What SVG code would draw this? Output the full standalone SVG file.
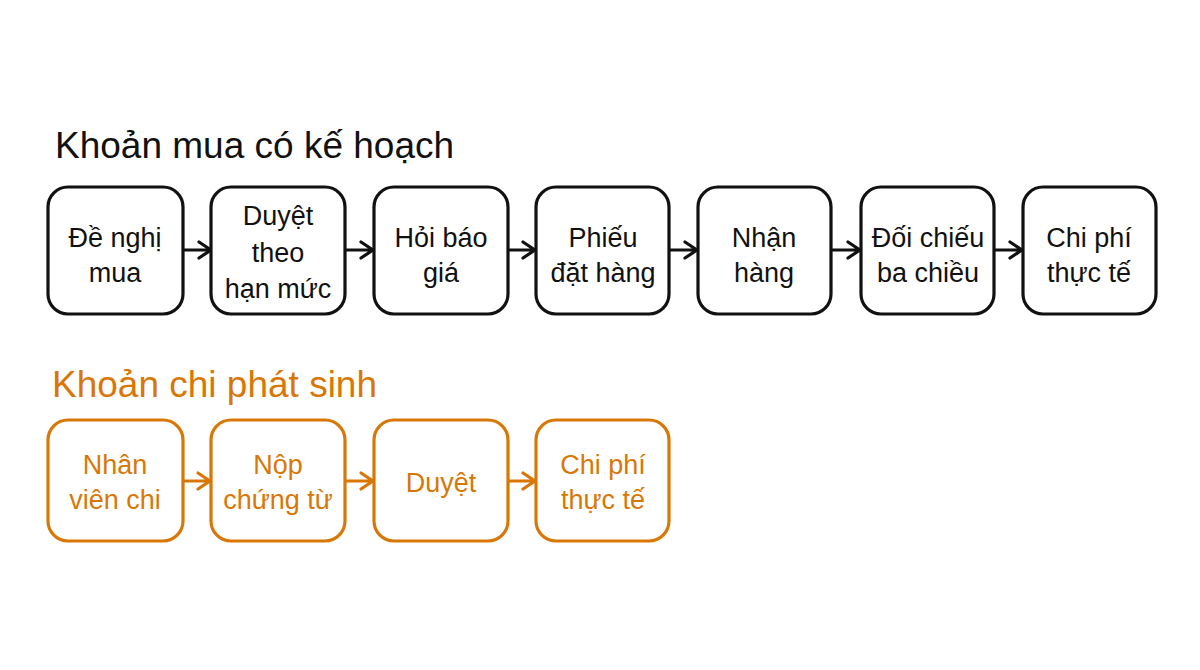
<svg xmlns="http://www.w3.org/2000/svg" width="1200" height="670" viewBox="0 0 1200 670">
<style>
.t{font-family:"Liberation Sans","Noto Sans",sans-serif;font-size:27px;text-anchor:middle}
.title{font-family:"Liberation Sans","Noto Sans",sans-serif;font-size:37px}
.bk rect{fill:#fff;stroke:#111;stroke-width:3.2}
.or rect{fill:#fff;stroke:#d97706;stroke-width:3.2}
.bk text{fill:#111}
.or text{fill:#d97706}
.ca path{fill:none;stroke-width:3.2;stroke-linecap:round;stroke-linejoin:round}
</style>
<rect width="1200" height="670" fill="#fff"/>
<text class="title" x="55" y="158" fill="#111">Khoản mua có kế hoạch</text>
<text class="title" x="52" y="397" fill="#d97706">Khoản chi phát sinh</text>

<g id="connectors" class="ca">
<g stroke="#111">
<path d="M183 250H211M199 242L211 250L199 258"/>
<path d="M345 250H373M361 242L373 250L361 258"/>
<path d="M508 250H535M523 242L535 250L523 258"/>
<path d="M670 250H697M685 242L697 250L685 258"/>
<path d="M832 250H860M848 242L860 250L848 258"/>
<path d="M995 250H1022M1010 242L1022 250L1010 258"/>
</g>
<g stroke="#d97706">
<path d="M183 481H210M198 473L210 481L198 489"/>
<path d="M345 481H373M361 473L373 481L361 489"/>
<path d="M508 481H535M523 473L535 481L523 489"/>
</g>
</g>

<g id="n1" class="bk"><rect x="48" y="187" width="135" height="127" rx="20"/><text class="t" x="115" y="247">Đề nghị</text><text class="t" x="115" y="282">mua</text></g>
<g id="n2" class="bk"><rect x="211" y="187" width="134" height="127" rx="20"/><text class="t" x="278" y="225">Duyệt</text><text class="t" x="278" y="262">theo</text><text class="t" x="278" y="298">hạn mức</text></g>
<g id="n3" class="bk"><rect x="374" y="187" width="134" height="127" rx="20"/><text class="t" x="441" y="247">Hỏi báo</text><text class="t" x="441" y="282">giá</text></g>
<g id="n4" class="bk"><rect x="536" y="187" width="133" height="127" rx="20"/><text class="t" x="603" y="247">Phiếu</text><text class="t" x="603" y="282">đặt hàng</text></g>
<g id="n5" class="bk"><rect x="698" y="187" width="133" height="127" rx="20"/><text class="t" x="764" y="247">Nhận</text><text class="t" x="764" y="282">hàng</text></g>
<g id="n6" class="bk"><rect x="861" y="187" width="133" height="127" rx="20"/><text class="t" x="928" y="247">Đối chiếu</text><text class="t" x="928" y="282">ba chiều</text></g>
<g id="n7" class="bk"><rect x="1023" y="187" width="133" height="127" rx="20"/><text class="t" x="1089" y="247">Chi phí</text><text class="t" x="1089" y="282">thực tế</text></g>

<g id="m1" class="or"><rect x="48" y="420" width="135" height="121" rx="20"/><text class="t" x="115" y="474">Nhân</text><text class="t" x="115" y="509">viên chi</text></g>
<g id="m2" class="or"><rect x="211" y="420" width="134" height="121" rx="20"/><text class="t" x="278" y="474">Nộp</text><text class="t" x="278" y="509">chứng từ</text></g>
<g id="m3" class="or"><rect x="374" y="420" width="134" height="121" rx="20"/><text class="t" x="441" y="492">Duyệt</text></g>
<g id="m4" class="or"><rect x="536" y="420" width="133" height="121" rx="20"/><text class="t" x="603" y="474">Chi phí</text><text class="t" x="603" y="509">thực tế</text></g>
</svg>
